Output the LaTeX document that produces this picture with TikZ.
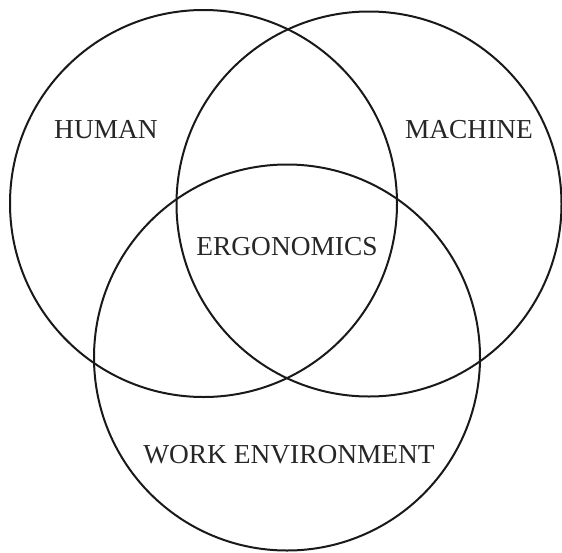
\documentclass[tikz,border=0pt]{standalone}
\usepackage{fontspec}
\setmainfont{Liberation Serif}
\begin{document}
\begin{tikzpicture}[x=1pt,y=-1pt,
  ring/.style={draw=black!90, line width=2pt},
  label/.style={inner sep=0pt, font=\fontsize{27.4}{30}\selectfont, text=black!85}]
\useasboundingbox (0,0) rectangle (562,552);
\draw[ring] (203.5,203.5) circle[radius=193.5pt];
\draw[ring] (369,204) circle[radius=192.5pt];
\draw[ring] (287,357.5) circle[radius=193pt];
\node[label] (human) at (106,130) {HUMAN};
\node[label] (machine) at (469,130) {MACHINE};
\node[label] (ergo) at (287,247) {ERGONOMICS};
\node[label] (work) at (289,455) {WORK ENVIRONMENT};
\end{tikzpicture}
\end{document}
